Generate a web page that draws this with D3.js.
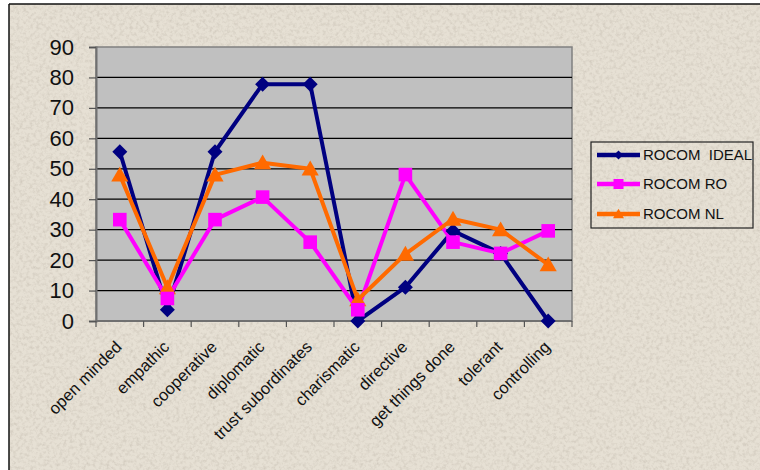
<!DOCTYPE html>
<html>
<head>
<meta charset="utf-8">
<script src="https://cdn.jsdelivr.net/npm/d3@7"></script>
<style>
  html, body { margin: 0; padding: 0; background: #ffffff; }
  svg { display: block; }
  text { font-family: Arial, "Liberation Sans", sans-serif; fill: #111; }
</style>
</head>
<body>
<svg id="chart" width="760" height="470"></svg>
<script>
// Leadership traits (x categories)
const categories = ["open minded", "empathic", "cooperative", "diplomatic", "trust subordinates",
                    "charismatic", "directive", "get things done", "tolerant", "controlling"];

// Series values (percent)
const idealValues = [55.6, 3.7, 55.6, 77.8, 77.8, 0, 11.1, 29.6, 22.2, 0];
const roValues    = [33.3, 7.4, 33.3, 40.7, 25.9, 3.7, 48.1, 25.9, 22.2, 29.6];
const nlValues    = [48, 11, 48, 52, 50, 7, 22, 33.5, 30, 18.5];

const seriesNames = ["ROCOM  IDEAL", "ROCOM RO", "ROCOM NL"];
const yTicks = [0, 10, 20, 30, 40, 50, 60, 70, 80, 90];

const series = [
  { name: seriesNames[0], values: idealValues, color: "#000080", marker: "diamond" },
  { name: seriesNames[1], values: roValues,    color: "#ff00ff", marker: "square" },
  { name: seriesNames[2], values: nlValues,    color: "#ff6a00", marker: "triangle" }
];

const svg = d3.select("#chart");
const W = 760, H = 470;

// Parchment background with a grain
const defs = svg.append("defs");
const grain = defs.append("filter").attr("id", "grain")
  .attr("x", 0).attr("y", 0).attr("width", "100%").attr("height", "100%");
grain.append("feTurbulence").attr("type", "fractalNoise")
  .attr("baseFrequency", "0.3").attr("numOctaves", 3).attr("seed", 7);
grain.append("feColorMatrix").attr("type", "matrix")
  .attr("values", "0 0 0 0 0.52  0 0 0 0 0.47  0 0 0 0 0.40  1.6 0 0 0 -0.68");

svg.append("rect").attr("x", 9).attr("y", 4).attr("width", W - 9).attr("height", H - 4)
  .attr("fill", "#e6e0d4");
svg.append("rect").attr("x", 9).attr("y", 4).attr("width", W - 9).attr("height", H - 4)
  .attr("filter", "url(#grain)").attr("opacity", 0.65);
// frame lines on the left and top
svg.append("line").attr("x1", 9).attr("x2", 9).attr("y1", 4).attr("y2", H)
  .attr("stroke", "#111").attr("stroke-width", 1.5);
svg.append("line").attr("x1", 9).attr("x2", W).attr("y1", 4).attr("y2", 4)
  .attr("stroke", "#111").attr("stroke-width", 1.5);

// Plot area
const plot = { left: 96, right: 572, top: 47, bottom: 321 };

const x = d3.scaleBand().domain(categories).range([plot.left, plot.right]).padding(0);
const y = d3.scaleLinear().domain([0, 90]).range([plot.bottom, plot.top]);
const cx = c => x(c) + x.bandwidth() / 2;

svg.append("rect")
  .attr("x", plot.left).attr("y", plot.top)
  .attr("width", plot.right - plot.left).attr("height", plot.bottom - plot.top)
  .attr("fill", "#c0c0c0").attr("stroke", "#808080").attr("stroke-width", 1.5);

// Horizontal gridlines
svg.append("g").selectAll("line")
  .data(yTicks.filter(t => t > 0 && t < 90))
  .join("line")
  .attr("x1", plot.left).attr("x2", plot.right)
  .attr("y1", d => y(d)).attr("y2", d => y(d))
  .attr("stroke", "#000").attr("stroke-width", 1.2);

// Y axis
const yAxis = svg.append("g")
  .attr("transform", `translate(${plot.left},0)`)
  .call(d3.axisLeft(y).tickValues(yTicks).tickSize(7).tickPadding(15));
yAxis.select(".domain").attr("stroke", "#707070").attr("stroke-width", 2);
yAxis.selectAll(".tick line").attr("stroke", "#555").attr("stroke-width", 1.2);
yAxis.selectAll(".tick text").style("font-size", "22px").attr("fill", "#111");

// X axis: ticks at category boundaries, rotated labels
const xAxis = svg.append("g").attr("transform", `translate(0,${plot.bottom})`);
xAxis.append("line").attr("x1", plot.left).attr("x2", plot.right)
  .attr("y1", 0).attr("y2", 0).attr("stroke", "#707070").attr("stroke-width", 2);
const boundaries = categories.map(c => x(c)).concat([plot.right]);
xAxis.selectAll("line.tk").data(boundaries).join("line").attr("class", "tk")
  .attr("x1", d => d).attr("x2", d => d).attr("y1", 0).attr("y2", 6)
  .attr("stroke", "#555").attr("stroke-width", 1.2);
xAxis.selectAll("text").data(categories).join("text")
  .attr("transform", d => `translate(${cx(d) + 3},${27}) rotate(-45)`)
  .attr("text-anchor", "end")
  .style("font-size", "16.5px")
  .text(d => d);

// Marker shapes
function markerPath(kind, s) {
  if (kind === "diamond") return `M0,${-s}L${s},0L0,${s}L${-s},0Z`;
  if (kind === "square") return `M${-s},${-s}H${s}V${s}H${-s}Z`;
  // triangle
  return `M0,${-s * 1.05}L${s * 1.1},${s * 0.85}L${-s * 1.1},${s * 0.85}Z`;
}
const markerSize = { diamond: 7.5, square: 6.8, triangle: 7.8 };

// Lines first, in series order
const line = d3.line().x((d, i) => cx(categories[i])).y(d => y(d));
svg.append("g").selectAll("path")
  .data(series).join("path")
  .attr("d", s => line(s.values))
  .attr("fill", "none").attr("stroke", s => s.color)
  .attr("stroke-width", 4).attr("stroke-linejoin", "round");

// Markers on top (NL before RO so the squares sit above the triangles)
const markerOrder = [series[0], series[2], series[1]];
markerOrder.forEach(s => {
  svg.append("g").selectAll("path")
    .data(s.values).join("path")
    .attr("transform", (d, i) => `translate(${cx(categories[i])},${y(d)})`)
    .attr("d", markerPath(s.marker, markerSize[s.marker]))
    .attr("fill", s.color);
});

// Legend
const legend = svg.append("g");
legend.append("rect").attr("x", 591).attr("y", 142).attr("width", 162).attr("height", 86)
  .attr("fill", "none").attr("stroke", "#222").attr("stroke-width", 1.2);
const legendY = [155, 184, 214];
series.forEach((s, i) => {
  const g = legend.append("g").attr("transform", `translate(0,${legendY[i]})`);
  g.append("line").attr("x1", 597).attr("x2", 640).attr("y1", 0).attr("y2", 0)
    .attr("stroke", s.color).attr("stroke-width", 4.5);
  g.append("path").attr("transform", "translate(618.5,0)")
    .attr("d", markerPath(s.marker, s.marker === "diamond" ? 4.5 : 5)).attr("fill", s.color);
  g.append("text").attr("x", 643).attr("y", 0).attr("dy", "0.36em")
    .attr("xml:space", "preserve").style("white-space", "pre")
    .style("font-size", "15px").text(s.name);
});
</script>
</body>
</html>
